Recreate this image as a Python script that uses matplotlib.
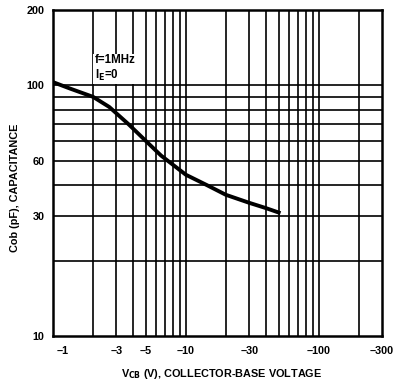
import matplotlib
matplotlib.use('Agg')
import matplotlib.pyplot as plt
import matplotlib.transforms as mtransforms
from matplotlib.ticker import FixedLocator, FixedFormatter, NullLocator

plt.rcParams['font.family'] = ['Liberation Sans', 'DejaVu Sans']
plt.rcParams['font.weight'] = 'bold'

# Cob vs VCB curve
vcb = [1, 1.35, 2, 2.65, 3.7, 5, 6.5, 10, 14.4, 20, 30, 40, 50]
cob = [103, 97, 90, 82, 70, 60, 52.5, 44, 40, 36.6, 34, 32.4, 31.1]

x_ticks = [1, 3, 5, 10, 30, 100, 300]
x_labels = ['\u20131', '\u20133', '\u20135', '\u201310', '\u201330', '\u2013100', '\u2013300']
y_ticks = [10, 30, 50, 100, 200]
y_labels = ['10', '30', '60', '100', '200']

x_grid = [2, 3, 4, 5, 6, 7, 8, 9, 10, 20, 30, 40, 50, 60, 70, 80, 90, 100, 200]
y_grid = [20, 30, 40, 50, 60, 70, 80, 90, 100]

fig = plt.figure(figsize=(3.93, 3.81), dpi=100)
ax = fig.add_axes([0.135, 0.118, 0.837, 0.856])

ax.set_xscale('log')
ax.set_yscale('log')
ax.set_xlim(1, 300)
ax.set_ylim(10, 200)

for v in x_grid:
    ax.axvline(v, color='black', lw=1.2, zorder=1)
for c in y_grid:
    ax.axhline(c, color='black', lw=1.2, zorder=1)

ax.plot(vcb, cob, color='black', lw=2.8, solid_joinstyle='round', zorder=3)

ax.text(2.06, 133, 'f=1MHz\nI$_{\\mathbf{E}}$=0', fontsize=8.3, fontweight='bold',
        va='top', ha='left', linespacing=1.1, zorder=4,
        bbox=dict(facecolor='white', edgecolor='none', pad=1.2))

ax.xaxis.set_major_locator(FixedLocator(x_ticks))
ax.xaxis.set_major_formatter(FixedFormatter(x_labels))
ax.xaxis.set_minor_locator(NullLocator())
ax.yaxis.set_major_locator(FixedLocator(y_ticks))
ax.yaxis.set_major_formatter(FixedFormatter(y_labels))
ax.yaxis.set_minor_locator(NullLocator())
ax.tick_params(axis='both', length=0, labelsize=7.8)
ax.tick_params(axis='x', pad=7)
ax.tick_params(axis='y', pad=6)

# first x label sits a little right of the axis corner
lbl = ax.get_xticklabels()[0]
lbl.set_transform(lbl.get_transform() + mtransforms.ScaledTranslation(7 / 72, 0, fig.dpi_scale_trans))

for s in ax.spines.values():
    s.set_linewidth(1.8)

ax.set_xlabel('V$_{\\mathbf{CB}}$ (V), COLLECTOR-BASE VOLTAGE', fontsize=7.8, fontweight='bold')
ax.set_ylabel('Cob (pF), CAPACITANCE', fontsize=7.8, fontweight='bold')
ax.xaxis.set_label_coords(0.514, -0.094)
ax.yaxis.set_label_coords(-0.10, 0.454)

fig.savefig('out.png', dpi=100)
